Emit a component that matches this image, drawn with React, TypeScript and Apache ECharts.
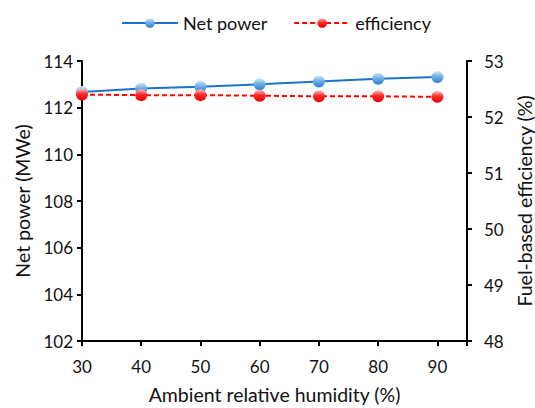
import React, { useEffect, useRef } from "react";
import * as echarts from "echarts";

const humidity = [30, 40, 50, 60, 70, 80, 90];
const netPower = [112.67, 112.82, 112.9, 113.0, 113.12, 113.24, 113.31];
const efficiency = [52.4, 52.39, 52.39, 52.38, 52.37, 52.37, 52.36];

const FONT = "Lato";

const blueMarker = new echarts.graphic.LinearGradient(0, 0, 0, 1, [
  { offset: 0, color: "#d4e9f9" },
  { offset: 0.45, color: "#6fb0e6" },
  { offset: 1, color: "#2a7fcf" },
]);
const redMarker = new echarts.graphic.LinearGradient(0, 0, 0, 1, [
  { offset: 0, color: "#ffc4c4" },
  { offset: 0.45, color: "#ff2a2a" },
  { offset: 1, color: "#e60000" },
]);

export default function App() {
  const ref = useRef<HTMLDivElement>(null);
  useEffect(() => {
    if (!ref.current) return;
    const chart = echarts.init(ref.current, null, { renderer: "svg" });
    const axisCommon = {
      axisLine: { show: true, lineStyle: { color: "#000", width: 2 } },
      axisTick: { show: true, length: 5, lineStyle: { color: "#000", width: 2 } },
      axisLabel: { color: "#111", fontFamily: FONT, fontSize: 17 },
      splitLine: { show: false },
      nameTextStyle: { color: "#111", fontFamily: FONT, fontSize: 19.5 },
    };
    chart.setOption({
      animation: false,
      backgroundColor: "#fff",
      textStyle: { fontFamily: FONT },
      legend: {
        top: 9,
        left: 116,
        itemWidth: 56,
        itemHeight: 12,
        itemGap: 26,
        textStyle: { fontFamily: FONT, fontSize: 18, color: "#111" },
        data: ["Net power", "efficiency"],
      },
      grid: { left: 82, right: 68, top: 61, bottom: 67, outerBoundsMode: "none" },
      xAxis: {
        type: "value",
        min: 30,
        max: 95,
        interval: 10,
        name: "Ambient relative humidity (%)",
        nameLocation: "middle",
        nameGap: 43,
        ...axisCommon,
        axisLabel: {
          ...axisCommon.axisLabel,
          margin: 17,
          formatter: (v: number) => (v > 90 ? "" : String(v)),
        },
      },
      yAxis: [
        {
          type: "value",
          min: 102,
          max: 114,
          interval: 2,
          name: "Net power (MWe)",
          nameLocation: "middle",
          nameGap: 50,
          ...axisCommon,
          axisLabel: { ...axisCommon.axisLabel, margin: 9 },
        },
        {
          type: "value",
          min: 48,
          max: 53,
          interval: 1,
          position: "right",
          name: "Fuel-based efficiency (%)",
          nameLocation: "middle",
          nameGap: 45,
          ...axisCommon,
          axisLabel: { ...axisCommon.axisLabel, margin: 17 },
        },
      ],
      series: [
        {
          name: "Net power",
          type: "line",
          yAxisIndex: 0,
          data: humidity.map((h, i) => [h, netPower[i]]),
          symbol: "circle",
          symbolSize: 12,
          lineStyle: { color: "#1a73c9", width: 2 },
          itemStyle: { color: blueMarker, borderWidth: 0 },
          z: 3,
        },
        {
          name: "efficiency",
          type: "line",
          yAxisIndex: 1,
          data: humidity.map((h, i) => [h, efficiency[i]]),
          symbol: "circle",
          symbolSize: 12,
          lineStyle: { color: "#ff0000", width: 2, type: [5, 3] },
          itemStyle: { color: redMarker, borderWidth: 0 },
          z: 4,
        },
      ],
    });
    return () => chart.dispose();
  }, []);
  return <div ref={ref} style={{ width: 535, height: 408, position: "absolute", left: 0, top: 0 }} />;
}
